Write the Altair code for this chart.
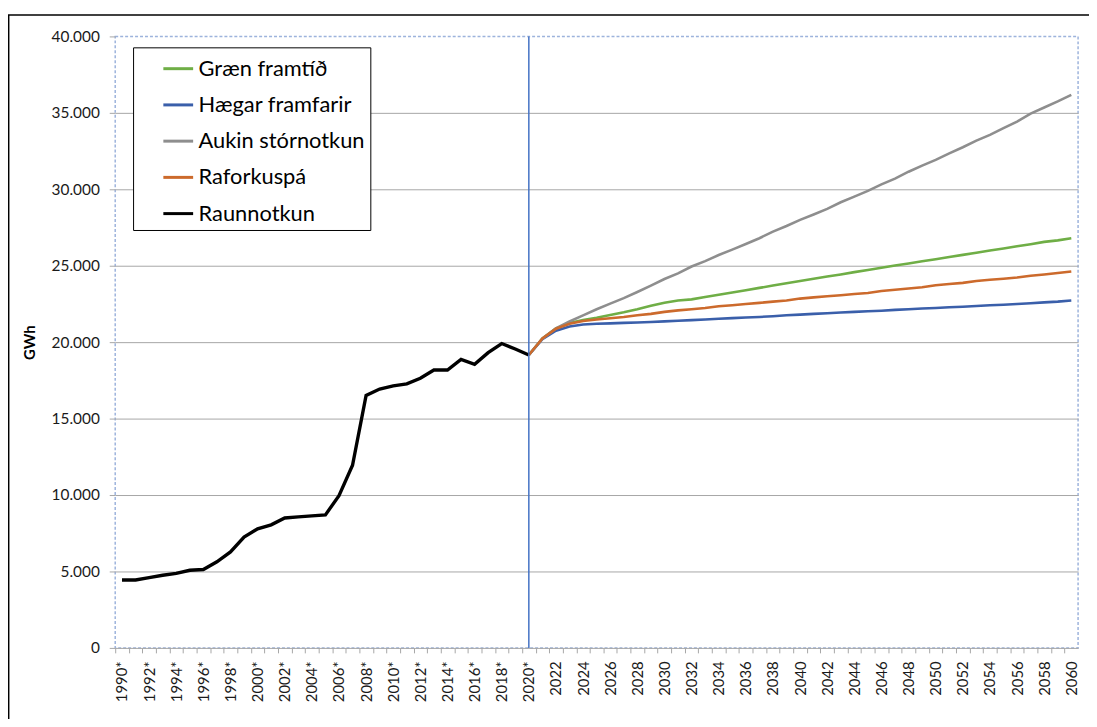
import altair as alt
import pandas as pd

# ---------------- data ----------------
hist_years = list(range(1990, 2021))
raunnotkun = [4440, 4440, 4600, 4750, 4870, 5080, 5130, 5630, 6280, 7250,
              7790, 8050, 8500, 8570, 8640, 8700, 9960, 11950, 16510, 16930,
              17140, 17270, 17640, 18180, 18180, 18870, 18550, 19310, 19910, 19550,
              19160]

fc_years = list(range(2020, 2061))
graen = [19160, 20250, 20900, 21250, 21450, 21600, 21780, 21950, 22150, 22380, 22580,
         22720, 22800, 22950, 23100, 23250, 23400, 23550, 23700, 23850, 24000,
         24150, 24290, 24430, 24580, 24720, 24870, 25010, 25150, 25290, 25430,
         25570, 25710, 25850, 25990, 26130, 26270, 26410, 26560, 26660, 26800]
haegar = [19160, 20200, 20750, 21020, 21150, 21200, 21230, 21260, 21290, 21320, 21360,
          21400, 21440, 21480, 21530, 21570, 21610, 21650, 21700, 21760, 21800,
          21850, 21890, 21940, 21980, 22020, 22060, 22110, 22150, 22200, 22240,
          22280, 22320, 22360, 22410, 22450, 22500, 22550, 22600, 22650, 22720]
aukin = [19160, 20220, 20900, 21350, 21750, 22150, 22520, 22880, 23280, 23700, 24130,
         24500, 24950, 25300, 25700, 26050, 26420, 26800, 27230, 27600, 28000,
         28350, 28720, 29150, 29520, 29900, 30320, 30700, 31150, 31550, 31920,
         32350, 32750, 33180, 33560, 34000, 34420, 34950, 35350, 35750, 36180]
raforkuspa = [19160, 20240, 20880, 21200, 21380, 21480, 21560, 21640, 21760, 21850, 21980,
              22080, 22150, 22230, 22350, 22420, 22500, 22570, 22650, 22720, 22850,
              22930, 23000, 23070, 23150, 23220, 23350, 23430, 23510, 23590, 23720,
              23800, 23880, 24000, 24080, 24150, 24230, 24350, 24430, 24520, 24620]

series_names = ["Græn framtíð", "Hægar framfarir", "Aukin stórnotkun", "Raforkuspá", "Raunnotkun"]
series_colors = ["#6FAE46", "#3A5FAA", "#8E8E8E", "#CC6A2C", "#000000"]
series_widths = [2.6, 2.6, 2.6, 2.6, 3.4]

even_tick_labels = ["1990*", "1992*", "1994*", "1996*", "1998*", "2000*", "2002*", "2004*",
                    "2006*", "2008*", "2010*", "2012*", "2014*", "2016*", "2018*", "2020*",
                    "2022", "2024", "2026", "2028", "2030", "2032", "2034", "2036", "2038",
                    "2040", "2042", "2044", "2046", "2048", "2050", "2052", "2054", "2056",
                    "2058", "2060"]
y_ticks = [0, 5000, 10000, 15000, 20000, 25000, 30000, 35000, 40000]
divider_year = [2020]

# ---------------- table ----------------
rows = []
for name, yrs, vals in [
    ("Græn framtíð", fc_years, graen),
    ("Hægar framfarir", fc_years, haegar),
    ("Aukin stórnotkun", fc_years, aukin),
    ("Raforkuspá", fc_years, raforkuspa),
    ("Raunnotkun", hist_years, raunnotkun),
]:
    for yr, v in zip(yrs, vals):
        rows.append({"year": yr, "value": v, "series": name})
df = pd.DataFrame(rows)

all_years = list(range(1990, 2061))
full_labels = []
k = 0
for yr in all_years:
    if yr % 2 == 0:
        full_labels.append(even_tick_labels[k])
        k += 1
    else:
        full_labels.append("")
label_expr = "[" + ",".join("'" + s + "'" for s in full_labels) + "][datum.value - 1990]"

W, H = 970, 616
half_band = W / 71 / 2

FONT = "Lato"

x_axis = alt.Axis(
    values=all_years, labelExpr=label_expr, labelAngle=-90, labelOverlap=False,
    labelSeparation=-20,
    tickOffset=-half_band, labelOffset=half_band, tickSize=5, tickColor="#A6A6A6",
    domain=False, grid=False, labelFont=FONT, labelFontSize=15, labelColor="#1a1a1a",
    labelPadding=8, title=None,
)
x_scale = alt.Scale(domain=[1989.5, 2060.5], nice=False, zero=False)
x_enc = alt.X("year:Q", scale=x_scale, axis=x_axis)

y_enc = alt.Y(
    "value:Q",
    scale=alt.Scale(domain=[0, 40000], nice=False),
    axis=alt.Axis(
        values=y_ticks, labelExpr="replace(format(datum.value, ','), ',', '.')",
        tickSize=6, tickColor="#A6A6A6", domain=False,
        gridColor={"condition": {"test": "datum.value >= 40000", "value": "transparent"}, "value": "#A6A6A6"},
        gridWidth=1, labelFont=FONT, labelFontSize=15.5, labelColor="#1a1a1a", labelPadding=10,
        title="GWh", titleFont=FONT, titleFontSize=15, titleFontWeight="bold", titleColor="#000000",
        titlePadding=14,
    ),
)
color_enc = alt.Color(
    "series:N",
    scale=alt.Scale(domain=series_names, range=series_colors),
    legend=alt.Legend(
        title=None, orient="none", legendX=18, legendY=11, fillColor="white",
        strokeColor="black", padding=5, symbolType="stroke", symbolSize=900,
        symbolStrokeWidth=3, labelFont=FONT, labelFontSize=22, labelColor="#000000",
        rowPadding=8.5, symbolOffset=24, labelOffset=4, labelLimit=400,
    ),
)

base = alt.Chart(df).encode(x=x_enc, y=y_enc, color=color_enc)
line_layers = [
    base.transform_filter(alt.datum.series == name).mark_line(strokeWidth=w)
    for name, w in zip(series_names, series_widths)
]

vline = alt.Chart(pd.DataFrame({"year": divider_year})).mark_rule(
    color="#4472C4", strokeWidth=1.5
).encode(x=x_enc)

frame_df = pd.DataFrame({"d": [0]})
frame_left = alt.Chart(frame_df).mark_rule(color="black", strokeWidth=1.5).encode(
    x=alt.value(-107.3), y=alt.value(-21.5), y2=alt.value(720)
)
frame_top = alt.Chart(frame_df).mark_rule(color="black", strokeWidth=1.5).encode(
    x=alt.value(-108), x2=alt.value(1000), y=alt.value(-21.5)
)

chart = alt.layer(*line_layers, vline, frame_left, frame_top).properties(
    width=W, height=H, autosize="none",
    padding={"left": 108, "top": 26, "right": 11, "bottom": 69},
).configure_view(
    stroke="#9DB3DC", strokeDash=[3, 2], strokeWidth=1.5
).configure_axisX(labelOverlap=False)

chart.save("out.html", embed_options={"renderer": "svg", "actions": False})
